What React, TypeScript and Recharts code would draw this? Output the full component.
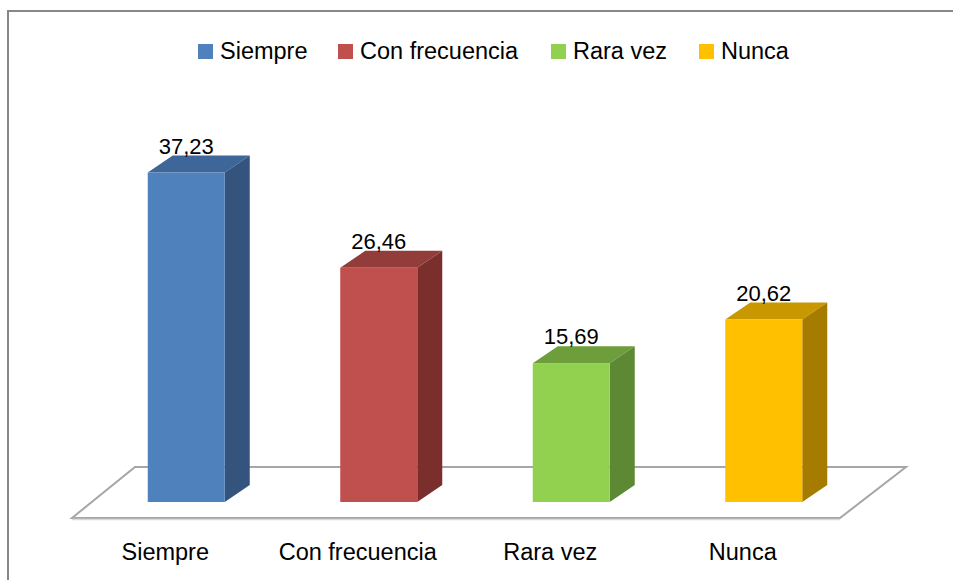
import React from "react";
import { BarChart, Bar, XAxis, YAxis, Legend, LabelList, ReferenceArea } from "recharts";

const categories = ["Siempre", "Con frecuencia", "Rara vez", "Nunca"];
const values = [37.23, 26.46, 15.69, 20.62];
const frontColors = ["#4F81BD", "#C0504D", "#92D050", "#FFC000"];
const topColors = ["#3E6698", "#923D3A", "#6E9E3C", "#C99700"];
const sideColors = ["#34547E", "#7B2F2D", "#5E8934", "#A67C00"];

const data = categories.map((name, i) => ({ name, value: values[i] }));

const FONT = "'Liberation Sans', Arial, sans-serif";
const DX = 25;
const DY = 17;

const fmt = (v: number) => v.toFixed(2).replace(".", ",");

const Bar3D = (props: any) => {
  const { x, y, width, height, index } = props;
  const right = x + width;
  const bottom = y + height;
  return (
    <g>
      <path
        d={`M${x},${y} L${x + DX},${y - DY} L${right + DX},${y - DY} L${right},${y} Z`}
        fill={topColors[index]}
      />
      <path
        d={`M${right},${y} L${right + DX},${y - DY} L${right + DX},${bottom - DY} L${right},${bottom} Z`}
        fill={sideColors[index]}
      />
      <rect x={x} y={y} width={width} height={height} fill={frontColors[index]} />
    </g>
  );
};

const Floor = (props: any) => {
  const { x, y, width, height } = props;
  const base = y + height;
  const bl = x + 45;
  const br = x + width + 46;
  const fl = x - 18;
  const fr = x + width - 20;
  const by = base - 35;
  const fy = base + 16;
  return (
    <g>
      <path
        d={`M${bl},${by} L${br},${by} L${fr},${fy} L${fl},${fy} Z`}
        fill="#FFFFFF"
        stroke="#A6A6A6"
        strokeWidth={2}
      />
      <line x1={fl} y1={fy + 1.5} x2={fr} y2={fy + 1.5} stroke="#D9D9D9" strokeWidth={1.5} />
    </g>
  );
};

const ValueLabel = (props: any) => {
  const { x, y, width, value } = props;
  return (
    <text
      x={x + width / 2}
      y={y - 19}
      textAnchor="middle"
      fontFamily={FONT}
      fontSize={22}
      fill="#000000"
    >
      {fmt(value)}
    </text>
  );
};

const CategoryTick = (props: any) => {
  const { x, y, payload } = props;
  return (
    <text
      x={x - 21}
      y={y + 50}
      textAnchor="middle"
      fontFamily={FONT}
      fontSize={23.5}
      fill="#000000"
    >
      {payload.value}
    </text>
  );
};

const legendWidths = [140, 213, 148, 120];

const LegendContent = () => (
  <div style={{ display: "flex", alignItems: "center", paddingLeft: 198, height: 26 }}>
    {categories.map((c, i) => (
      <div
        key={c}
        style={{ display: "flex", alignItems: "center", width: legendWidths[i], flex: "none" }}
      >
        <div style={{ width: 15, height: 15, background: frontColors[i], marginRight: 7, flex: "none" }} />
        <span style={{ fontFamily: FONT, fontSize: 23.5, color: "#000", lineHeight: "26px", whiteSpace: "nowrap" }}>
          {c}
        </span>
      </div>
    ))}
  </div>
);

export default function App() {
  return (
    <div
      style={{
        position: "absolute",
        left: 0,
        top: 0,
        width: 953,
        height: 580,
        overflow: "hidden",
        background: "#FFFFFF",
      }}
    >
      <div
        style={{
          position: "absolute",
          left: 7,
          top: 10,
          width: 1000,
          height: 700,
          borderTop: "2px solid #878787",
          borderLeft: "2px solid #878787",
        }}
      />
      <div style={{ position: "absolute", left: 0, top: 0 }}>
        <BarChart
          width={953}
          height={580}
          data={data}
          margin={{ top: 148, right: 93, bottom: 0, left: 90 }}
          barCategoryGap="30%"
        >
          <XAxis
            dataKey="name"
            axisLine={false}
            tickLine={false}
            height={78}
            tick={<CategoryTick />}
            interval={0}
          />
          <YAxis hide domain={[0, 40]} />
          <ReferenceArea
            x1="Siempre"
            x2="Nunca"
            y1={0}
            y2={1}
            ifOverflow="visible"
            shape={<Floor />}
          />
          <Legend
            verticalAlign="middle"
            content={<LegendContent />}
            wrapperStyle={{ top: 38, left: 0, width: 953, height: 26 }}
          />
          <Bar dataKey="value" shape={<Bar3D />} isAnimationActive={false}>
            <LabelList dataKey="value" content={<ValueLabel />} />
          </Bar>
        </BarChart>
      </div>
    </div>
  );
}
